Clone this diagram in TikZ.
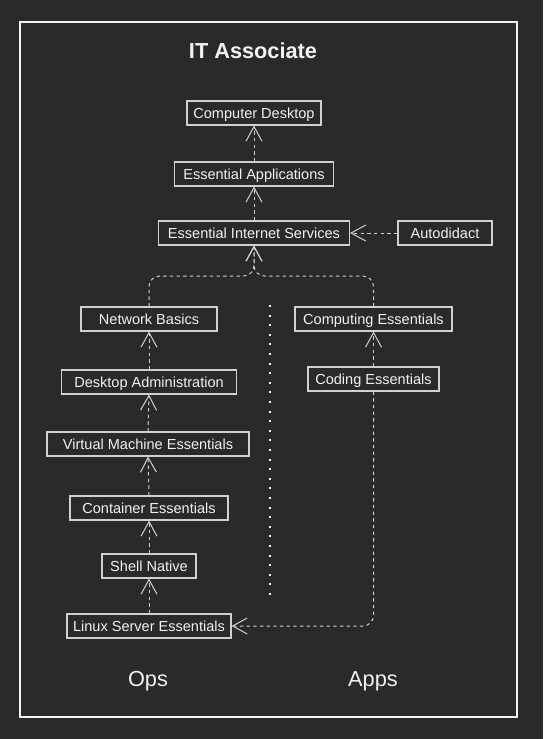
\documentclass[tikz,border=0pt]{standalone}
\usepackage{fontspec}
\setmainfont{Liberation Sans}
\usetikzlibrary{arrows.meta,positioning,calc}
\definecolor{bgdark}{HTML}{2A2A2A}
\definecolor{fg}{HTML}{F2F2F2}
\definecolor{edge}{HTML}{D0D0D0}
\tikzset{
  topic/.style   = {draw=edge, line width=0.8pt, text=fg, inner xsep=4.5pt, inner ysep=0pt,
                    minimum height=18pt, text height=9.5pt, text depth=2pt,
                    font=\fontsize{10.9}{12}\selectfont},
  dep/.style     = {-{Straight Barb[length=11pt,width=12pt]}, draw=edge, line width=0.75pt,
                    dash pattern=on 2.5pt off 2.5pt},
  heading/.style = {text=fg, font=\fontsize{16.3}{19}\selectfont},
}
\begin{document}
\begin{tikzpicture}[x=0.75pt,y=-0.75pt]
  \fill[bgdark] (0,0) rectangle (543,739);
  \draw[fg, line width=0.9pt] (20,22) rectangle (517,717);
  \node[heading, font=\fontsize{16.3}{19}\selectfont\bfseries] (title) at (253,51) {IT Associate};
  % top of the tree
  \node[topic, minimum width=100.5pt] (cd)  at (254,113) {Computer Desktop};
  \node[topic, minimum width=119.25pt] (ea) at (254,174) {Essential Applications};
  \node[topic, minimum width=143.25pt] (eis) at (254,233) {Essential Internet Services};
  \node[topic, minimum width=70.5pt] (auto) at (445,233) {Autodidact};
  % ops track
  \node[topic, minimum width=102pt] (nb)    at (149,319) {Network Basics};
  \node[topic, minimum width=131.25pt] (da) at (149,382) {Desktop Administration};
  \node[topic, minimum width=151.5pt] (vm)  at (148,444) {Virtual Machine Essentials};
  \node[topic, minimum width=118.5pt] (ctr) at (149,508) {Container Essentials};
  \node[topic, minimum width=70.5pt] (sh)   at (149,566) {Shell Native};
  \node[topic, minimum width=123pt] (lse)   at (149,626) {Linux Server Essentials};
  % apps track
  \node[topic, minimum width=117.75pt] (ce) at (373.5,319) {Computing Essentials};
  \node[topic, minimum width=98.25pt] (cod) at (373.5,379) {Coding Essentials};
  \node[heading] (ops)  at (148,681) {Ops};
  \node[heading] (apps) at (373,681) {Apps};
  \coordinate (join) at (254,276);
  \draw[dep] (ea.north) -- (cd.south);
  \draw[dep] (eis.north) -- (ea.south);
  \draw[dep] (auto.west) -- (eis.east);
  \draw[dep, rounded corners=8pt] (nb.north) |- (join) -- (eis.south);
  \draw[dep, rounded corners=8pt] (ce.north) |- (join) -- (eis.south);
  \draw[dep] (da.north) -- (nb.south);
  \draw[dep] (vm.north) -- (da.south);
  \draw[dep] (ctr.north) -- (vm.south);
  \draw[dep] (sh.north) -- (ctr.south);
  \draw[dep] (lse.north) -- (sh.south);
  \draw[dep] (cod.north) -- (ce.south);
  \draw[dep, rounded corners=8pt] (cod.south) |- (lse.east);
  % separator
  \draw[fg, line width=1.5pt, dash pattern=on 1.5pt off 5.7pt] (270,305) -- (270,596);
\end{tikzpicture}
\end{document}
